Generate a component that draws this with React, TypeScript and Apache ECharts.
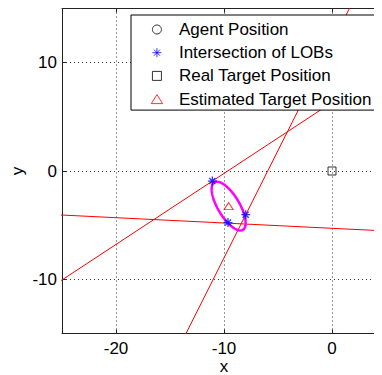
import { useEffect, useRef } from 'react';
import * as echarts from 'echarts';

const FONT = "'Liberation Sans', Arial, Helvetica, sans-serif";

// Axis ranges and tick values
const xRange = [-25, 5];
const yRange = [-15, 15];
const xTicks = [-20, -10, 0];
const yTicks = [-10, 0, 10];

// Lines of bearing, each given by two points far enough out to cross the whole view
const lobA = [[-30, -13.33], [10, 12.88]];
const lobB = [[-16, -19.92], [4, 19.74]];
const lobC = [[-30, -3.82], [10, -5.78]];

// Agents sit outside the plotted window
const agentPositions: number[][] = [];
const lobIntersections = [
  [-11.08, -0.93],
  [-9.63, -4.76],
  [-7.99, -4.03],
];
const realTarget = [[0, 0]];
const estimatedTarget = [[-9.57, -3.24]];
// Error ellipse: centre x, centre y, semi-major, semi-minor, rotation (deg)
const errorEllipse = [[-9.57, -3.24, 2.56, 1.0, -59]];

const legendNames = [
  'Agent Position',
  'Intersection of LOBs',
  'Real Target Position',
  'Estimated Target Position',
];

// Marker outlines (stroked only)
const ASTERISK = 'path://M5 0 L5 10 M0 5 L10 5 M1.6 1.6 L8.4 8.4 M1.6 8.4 L8.4 1.6';
const SQUARE = 'path://M0 0 L10 0 L10 10 L0 10 Z';
const TRIANGLE = 'path://M5 0 L10 8 L0 8 Z';

function lobSeries(name: string, pts: number[][]) {
  return {
    type: 'line',
    name,
    data: pts,
    symbol: 'none',
    clip: true,
    z: 1,
    lineStyle: { color: '#ff0000', width: 1 },
    silent: true,
  };
}

export default function App() {
  const ref = useRef<HTMLDivElement>(null);

  useEffect(() => {
    if (!ref.current) return;
    const chart = echarts.init(ref.current, undefined, { renderer: 'svg' });

    const tickCommon = {
      show: true,
      inside: true,
      length: 4,
      lineStyle: { color: '#222', width: 1 },
    };

    chart.setOption({
      animation: false,
      backgroundColor: '#fff',
      textStyle: { fontFamily: FONT },
      grid: {
        left: 54,
        top: 0.5,
        width: 324,
        height: 325,
        containLabel: false,
        outerBoundsMode: 'none',
      },
      legend: {
        data: legendNames,
        orient: 'vertical',
        left: 123,
        top: 7,
        itemWidth: 34,
        itemHeight: 9,
        itemGap: 5.2,
        symbolKeepAspect: true,
        padding: [5.5, 20, 2, 19.8],
        backgroundColor: '#fff',
        borderColor: '#000',
        borderWidth: 1,
        borderRadius: 0,
        selectedMode: false,
        itemStyle: { borderWidth: 1 },
        textStyle: {
          fontFamily: FONT,
          fontSize: 17,
          lineHeight: 18,
          color: '#000',
        },
      },
      xAxis: [
        {
          type: 'value',
          min: xRange[0],
          max: xRange[1],
          position: 'bottom',
          name: 'x',
          nameLocation: 'middle',
          nameGap: 24,
          nameMoveOverlap: false,
          nameTextStyle: { fontFamily: FONT, fontSize: 17, color: '#000' },
          axisLine: { show: true, onZero: false, lineStyle: { color: '#222', width: 1 } },
          axisTick: { ...tickCommon, customValues: xTicks },
          axisLabel: {
            customValues: xTicks,
            margin: 6,
            fontFamily: FONT,
            fontSize: 17,
            color: '#000',
          },
          splitLine: {
            show: true,
            lineStyle: { color: '#333', width: 1, type: [1, 3] },
          },
        },
        {
          type: 'value',
          min: xRange[0],
          max: xRange[1],
          position: 'top',
          axisLine: { show: true, onZero: false, lineStyle: { color: '#222', width: 1 } },
          axisTick: { ...tickCommon, customValues: xTicks },
          axisLabel: { show: false },
          splitLine: { show: false },
        },
      ],
      yAxis: {
        type: 'value',
        min: yRange[0],
        max: yRange[1],
        name: 'y',
        nameLocation: 'middle',
        nameGap: 36,
        nameMoveOverlap: false,
        nameTextStyle: { fontFamily: FONT, fontSize: 17, color: '#000' },
        axisLine: { show: true, onZero: false, lineStyle: { color: '#222', width: 1 } },
        axisTick: { ...tickCommon, customValues: yTicks },
        axisLabel: {
          customValues: yTicks,
          margin: 5,
          fontFamily: FONT,
          fontSize: 17,
          color: '#000',
        },
        splitLine: {
          show: true,
          lineStyle: { color: '#333', width: 1, type: [1, 3] },
        },
      },
      series: [
        {
          type: 'scatter',
          name: 'Agent Position',
          data: agentPositions,
          symbol: 'circle',
          symbolSize: 8,
          itemStyle: { color: 'rgba(0,0,0,0)', borderColor: '#000', borderWidth: 1 },
          z: 4,
        },
        lobSeries('LOB 1', lobA),
        lobSeries('LOB 2', lobB),
        lobSeries('LOB 3', lobC),
        {
          type: 'custom',
          name: 'Error Ellipse',
          data: errorEllipse,
          encode: { x: 0, y: 1 },
          clip: true,
          z: 2,
          silent: true,
          renderItem: (_params: any, api: any) => {
            const cx = api.value(0);
            const cy = api.value(1);
            const a = api.value(2);
            const b = api.value(3);
            const ang = (api.value(4) * Math.PI) / 180;
            const pts: number[][] = [];
            const n = 144;
            for (let i = 0; i < n; i++) {
              const t = (i / n) * Math.PI * 2;
              const ex = a * Math.cos(t);
              const ey = b * Math.sin(t);
              pts.push(
                api.coord([
                  cx + ex * Math.cos(ang) - ey * Math.sin(ang),
                  cy + ex * Math.sin(ang) + ey * Math.cos(ang),
                ])
              );
            }
            return {
              type: 'polygon',
              shape: { points: pts },
              style: { fill: 'none', stroke: '#ff00ff', lineWidth: 2.5 },
            };
          },
        },
        {
          type: 'scatter',
          name: 'Intersection of LOBs',
          data: lobIntersections,
          symbol: ASTERISK,
          symbolSize: 9,
          itemStyle: { color: 'rgba(0,0,0,0)', borderColor: '#0000ff', borderWidth: 1.3 },
          z: 4,
        },
        {
          type: 'scatter',
          name: 'Real Target Position',
          data: realTarget,
          symbol: SQUARE,
          symbolSize: 8,
          itemStyle: { color: 'rgba(0,0,0,0)', borderColor: '#000', borderWidth: 1 },
          z: 4,
        },
        {
          type: 'scatter',
          name: 'Estimated Target Position',
          data: estimatedTarget,
          symbol: TRIANGLE,
          symbolSize: [9, 7],
          itemStyle: { color: 'rgba(0,0,0,0)', borderColor: '#ff0000', borderWidth: 1 },
          z: 4,
        },
      ],
    });

    return () => chart.dispose();
  }, []);

  return (
    <div style={{ width: 374, height: 367, overflow: 'hidden' }}>
      <div ref={ref} style={{ width: 400, height: 367 }} />
    </div>
  );
}
